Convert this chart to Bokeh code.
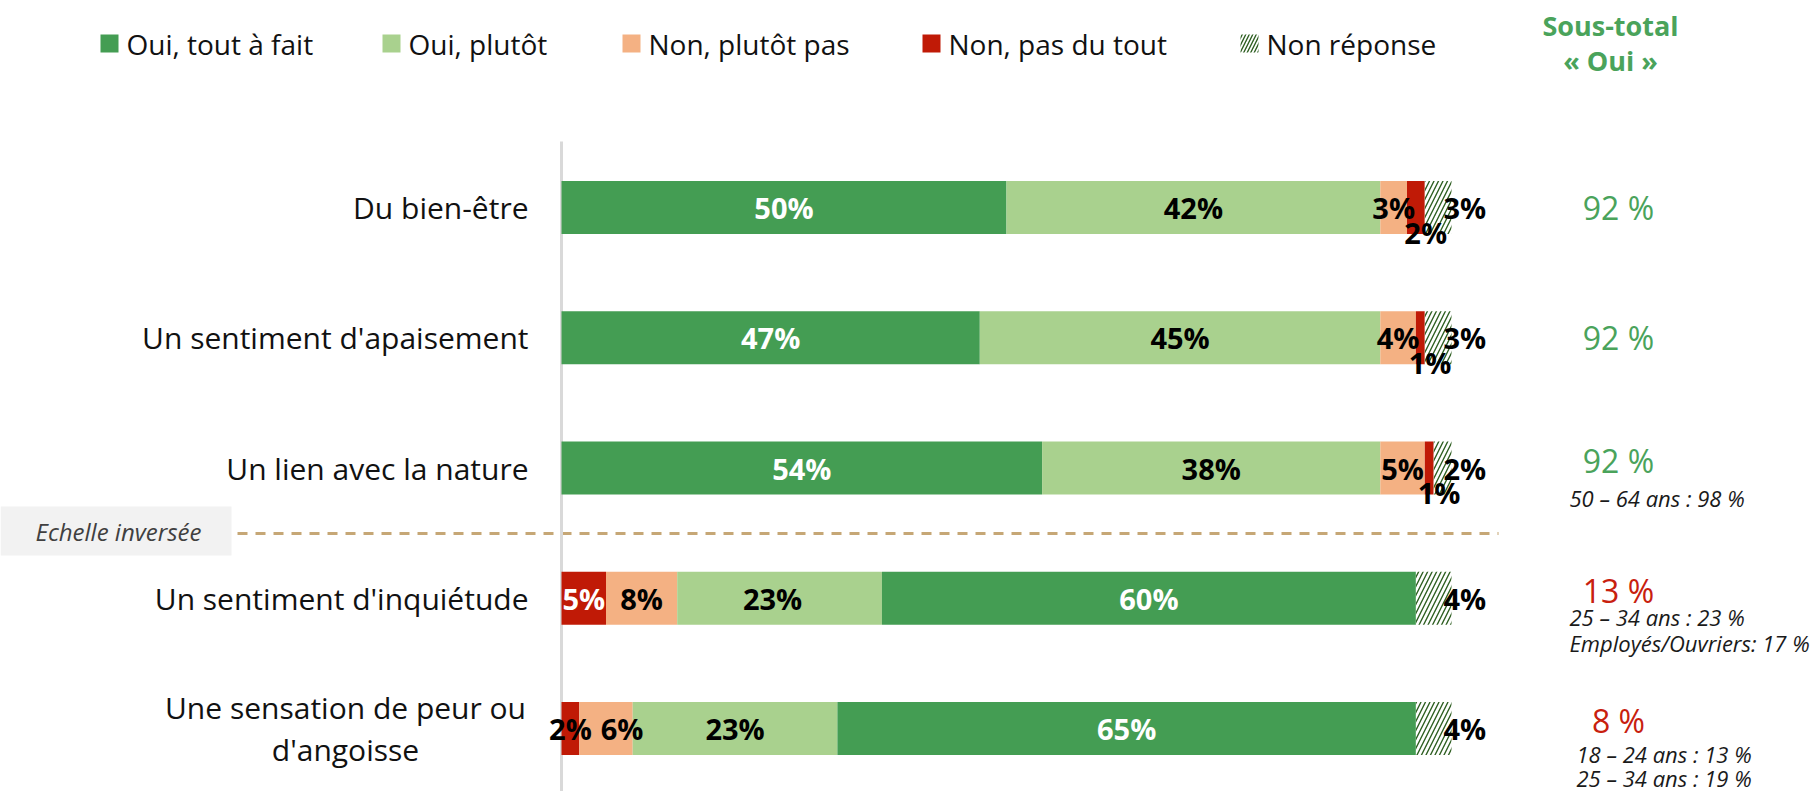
from bokeh.plotting import figure
from bokeh.models import Range1d, ColumnDataSource
from bokeh.embed import file_html
from bokeh.resources import INLINE
from bokeh.core.properties import value

# ---------------- data ----------------
categories = ["Du bien-être", "Un sentiment d'apaisement", "Un lien avec la nature",
              "Un sentiment d'inquiétude", "Une sensation de peur ou\nd'angoisse"]
series_names = ["Oui, tout à fait", "Oui, plutôt", "Non, plutôt pas", "Non, pas du tout", "Non réponse"]
oui_tout = [50, 47, 54, 60, 65]
oui_plutot = [42, 45, 38, 23, 23]
non_plutot = [3, 4, 5, 8, 6]
non_pas = [2, 1, 1, 5, 2]
non_reponse = [3, 3, 2, 4, 4]
inverted = [False, False, False, True, True]
subtotal_title = ["Sous-total", "« Oui »"]
subtotal_values = ["92 %", "92 %", "92 %", "13 %", "8 %"]
subtotal_notes = [[], [], ["50 – 64 ans : 98 %"],
                  ["25 – 34 ans : 23 %", "Employés/Ouvriers: 17 %"],
                  ["18 – 24 ans : 13 %", "25 – 34 ans : 19 %"]]
separator_label = "Echelle inversée"

# ---------------- style ----------------
C_DARK = "#449D53"
C_LIGHT = "#A9D18E"
C_PEACH = "#F4B183"
C_RED = "#C01A06"
C_HATCH = "#2F5F22"
C_GREEN_TXT = "#4AA35B"
C_RED_TXT = "#C8200E"
FONT = "Open Sans"

series = {
    "tout": (oui_tout, C_DARK),
    "plutot": (oui_plutot, C_LIGHT),
    "nonplutot": (non_plutot, C_PEACH),
    "nonpas": (non_pas, C_RED),
    "nr": (non_reponse, "white"),
}
legend_keys = ["tout", "plutot", "nonplutot", "nonpas", "nr"]
order_normal = ["tout", "plutot", "nonplutot", "nonpas", "nr"]
order_inv = ["nonpas", "nonplutot", "plutot", "tout", "nr"]
# small label nudges (pixels), layout only
label_nudge = {(4, "nonplutot"): 16, (3, "plutot"): -7}

# ---------------- geometry (pixel mapping) ----------------
W, H = 1814, 791
X0, SX = 561.0, 8.9        # pixel of 0 %, pixels per %
Y0, SY = 207.0, 130.25     # pixel of first row, pixels per row

def px(x):
    return (x - X0) / SX

def py(y):
    return (y - Y0) / SY

p = figure(width=W, height=H, output_backend="svg", toolbar_location=None,
           x_range=Range1d(px(0), px(W)), y_range=Range1d(py(H), py(0)),
           x_axis_type=None, y_axis_type=None, min_border=0,
           outline_line_color=None, background_fill_color="white")
p.grid.visible = False

# separator box + dashed line
p.quad(left=px(0), right=px(231), top=py(506), bottom=py(555),
       fill_color="#F2F2F2", line_color=None)
p.text(x=[px(118)], y=[py(531)], text=[separator_label], text_align="center",
       text_baseline="middle", text_font=value(FONT), text_font_size="24px",
       text_font_style="italic", text_color="#404040")
p.segment(x0=[px(237)], x1=[px(1498)], y0=[py(533)], y1=[py(533)],
          line_color="#C6A776", line_width=3, line_dash="10 8")

# vertical axis line
p.segment(x0=[0], x1=[0], y0=[py(141)], y1=[py(H + 5)], line_color="#D9D9D9", line_width=3)

# ---------------- bars ----------------
bar_h = 53 / SY
lab_x, lab_y, lab_t, lab_c, lab_a = [], [], [], [], []
for i in range(len(categories)):
    order = order_inv if inverted[i] else order_normal
    cum = 0.0
    for key in order:
        vals, col = series[key]
        v = vals[i]
        left, right = cum, cum + v
        cum = right
        if key == "nr":
            p.hbar(y=[i], left=[left], right=[right], height=bar_h, fill_color="white",
                   line_color=None, hatch_pattern="/", hatch_color=C_HATCH,
                   hatch_scale=9, hatch_weight=1.4)
        else:
            p.hbar(y=[i], left=[left], right=[right], height=bar_h, fill_color=col,
                   line_color=None)
        center = (left + right) / 2 + label_nudge.get((i, key), 0) / SX
        txt = f"{v}%"
        if key == "nr":
            lab_x.append(right - 0.9); lab_y.append(i); lab_a.append("left"); lab_c.append("black")
        elif key == "nonpas" and not inverted[i]:
            lab_x.append(center + 1.1); lab_y.append(i + 0.19); lab_a.append("center"); lab_c.append("black")
        else:
            white = key == "tout" or (key == "nonpas" and v >= 4)
            lab_x.append(center); lab_y.append(i); lab_a.append("center")
            lab_c.append("white" if white else "black")
        lab_t.append(txt)

lsrc = ColumnDataSource(dict(x=lab_x, y=lab_y, t=lab_t, c=lab_c, a=lab_a))
p.text(x="x", y="y", text="t", text_color="c", text_align="a", source=lsrc,
       text_baseline="middle", text_font=value(FONT), text_font_size="29px",
       text_font_style="bold")

# ---------------- category labels ----------------
for i, cat in enumerate(categories):
    if "\n" in cat:
        p.text(x=[px(345)], y=[i], text=[cat], text_align="center", text_baseline="middle",
               text_font=value(FONT), text_font_size="30px", text_color="#111111",
               text_line_height=1.04)
    else:
        p.text(x=[px(528)], y=[i], text=[cat], text_align="right", text_baseline="middle",
               text_font=value(FONT), text_font_size="30px", text_color="#111111")

# ---------------- legend ----------------
leg_sq = [100, 382, 622, 922, 1240]
for k, name, sx in zip(legend_keys, series_names, leg_sq):
    col = series[k][1]
    if k == "nr":
        p.rect(x=[px(sx + 9)], y=[py(43)], width=18, height=18, width_units="screen",
               height_units="screen", fill_color="white", line_color=None,
               hatch_pattern="/", hatch_color=C_HATCH, hatch_scale=7, hatch_weight=1.4)
    else:
        p.rect(x=[px(sx + 9)], y=[py(43)], width=18, height=18, width_units="screen",
               height_units="screen", fill_color=col, line_color=None)
    p.text(x=[px(sx + 26)], y=[py(43)], text=[name], text_align="left", text_baseline="middle",
           text_font=value(FONT), text_font_size="28px", text_color="#111111")

# ---------------- sous-total column ----------------
for t, yy in zip(subtotal_title, [25, 60]):
    p.text(x=[px(1610)], y=[py(yy)], text=[t], text_align="center", text_baseline="middle",
           text_font=value(FONT), text_font_size="27px", text_font_style="bold",
           text_color=C_GREEN_TXT)

note_dy = [0, 0, 30, 19, 25]
note_gap = [26, 26, 26, 26, 24]
note_x = [1569, 1569, 1569, 1569, 1576]
for i, (v, notes) in enumerate(zip(subtotal_values, subtotal_notes)):
    col = C_RED_TXT if inverted[i] else C_GREEN_TXT
    dy = -0.06 if notes else 0.0
    p.text(x=[px(1618)], y=[i + dy], text=[v], text_align="center", text_baseline="middle",
           text_font=value(FONT), text_font_size="32px", text_color=col)
    for j, n in enumerate(notes):
        p.text(x=[px(note_x[i])], y=[i + (note_dy[i] + note_gap[i] * j) / SY], text=[n],
               text_align="left", text_baseline="middle", text_font=value(FONT),
               text_font_size="22px", text_font_style="italic", text_color="#1A1A1A")

open("out.html", "w").write(file_html(p, INLINE))
